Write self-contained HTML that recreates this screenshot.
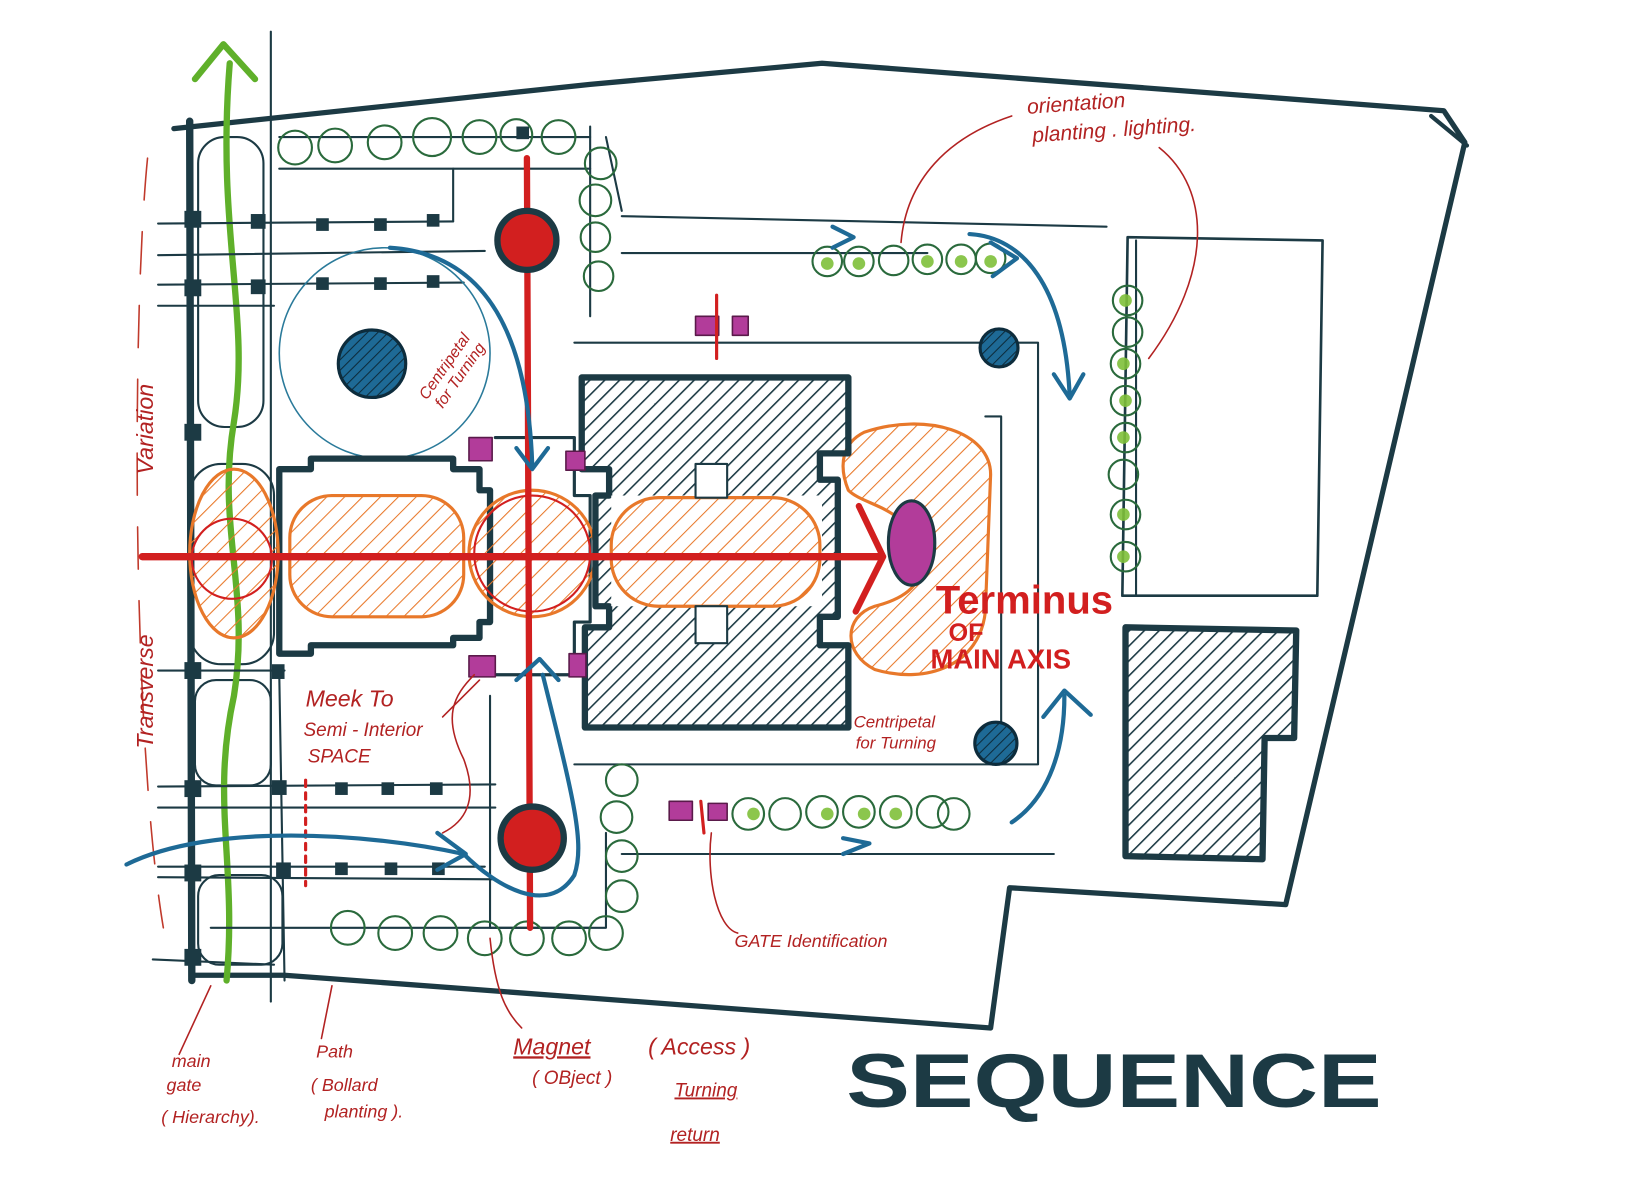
<!DOCTYPE html>
<html><head><meta charset="utf-8"><style>html,body{margin:0;padding:0;background:#fff}svg{display:block}</style></head>
<body>
<svg width="1644" height="1184" viewBox="0 0 1560 1123" preserveAspectRatio="none" xmlns="http://www.w3.org/2000/svg">
<defs>
<pattern id="ho" width="12" height="12" patternUnits="userSpaceOnUse" patternTransform="rotate(45)"><line x1="0" y1="0" x2="0" y2="12" stroke="#e8782a" stroke-width="2"/></pattern>
<pattern id="hk" width="10" height="10" patternUnits="userSpaceOnUse" patternTransform="rotate(45)"><line x1="0" y1="0" x2="0" y2="10" stroke="#1c3a44" stroke-width="3"/></pattern>
<pattern id="hb" width="7" height="7" patternUnits="userSpaceOnUse" patternTransform="rotate(45)"><rect width="7" height="7" fill="#1e6a96"/><line x1="0" y1="0" x2="0" y2="7" stroke="#0d2c3c" stroke-width="2"/></pattern>
</defs>
<rect width="1560" height="1123" fill="#fff"/>
<g fill="none" stroke-linecap="round" stroke-linejoin="round">
<path d="M165 122 L560 80 L780 60 L1370 105 L1390 135 L1220 858 L958 842 L940 975 L270 925 L185 925" stroke="#1c3a44" stroke-width="5"/>
<path d="M1358 110 L1392 138" stroke="#1c3a44" stroke-width="4"/>
<path d="M180 115 L182 930" stroke="#1c3a44" stroke-width="7"/>
<path d="M257 30 L257 950" stroke="#1c3a44" stroke-width="2"/>
<path d="M145 910 L260 915" stroke="#1c3a44" stroke-width="2"/>
<g stroke="#1c3a44" stroke-width="2">
<rect x="188" y="130" width="62" height="275" rx="25"/>
<rect x="180" y="440" width="80" height="190" rx="30"/>
<rect x="185" y="645" width="72" height="100" rx="20"/>
<rect x="188" y="830" width="80" height="85" rx="20"/>
</g>
<path d="M215 930 C225 820 200 760 222 660 C238 560 205 500 222 400 C238 300 205 220 218 60" stroke="#5fb02a" stroke-width="6"/>
<path d="M185 75 L212 42 L242 75" stroke="#5fb02a" stroke-width="6"/>
<g stroke="#1c3a44" stroke-width="2">
<path d="M150 212 L430 210"/><path d="M150 242 L460 238"/><path d="M150 270 L440 268"/><path d="M150 290 L260 290"/>
<path d="M150 636 L270 636"/><path d="M150 746 L470 744"/><path d="M150 766 L470 766"/><path d="M150 822 L460 822"/><path d="M150 832 L470 834"/>
<path d="M265 130 L560 130"/><path d="M265 160 L560 160"/><path d="M265 640 L270 930"/>
<path d="M430 160 L430 210"/><path d="M560 120 L560 300"/><path d="M575 130 L590 200"/>
<path d="M545 325 L985 325 L985 725 L545 725"/><path d="M935 395 L950 395 L950 700"/>
<path d="M590 205 L1050 215"/><path d="M590 240 L880 240"/>
<path d="M575 790 L575 880 L465 880 L465 660"/><path d="M590 810 L1000 810"/>
<path d="M1070 225 L1255 228 L1250 565 L1065 565 Z" stroke-width="2.5"/><path d="M1078 228 L1078 565"/>
<path d="M200 880 L560 880"/>
</g>
<g fill="#1c3a44" stroke="none">
<rect x="175" y="200" width="16" height="16"/><rect x="238" y="203" width="14" height="14"/><rect x="175" y="265" width="16" height="16"/><rect x="238" y="265" width="14" height="14"/>
<rect x="300" y="207" width="12" height="12"/><rect x="355" y="207" width="12" height="12"/><rect x="405" y="203" width="12" height="12"/>
<rect x="300" y="263" width="12" height="12"/><rect x="355" y="263" width="12" height="12"/><rect x="405" y="261" width="12" height="12"/>
<rect x="175" y="402" width="16" height="16"/><rect x="175" y="628" width="16" height="16"/><rect x="258" y="630" width="12" height="14"/>
<rect x="175" y="740" width="16" height="16"/><rect x="258" y="740" width="14" height="14"/>
<rect x="318" y="742" width="12" height="12"/><rect x="362" y="742" width="12" height="12"/><rect x="408" y="742" width="12" height="12"/>
<rect x="175" y="820" width="16" height="16"/><rect x="262" y="818" width="14" height="14"/>
<rect x="318" y="818" width="12" height="12"/><rect x="365" y="818" width="12" height="12"/><rect x="410" y="818" width="12" height="12"/>
<rect x="490" y="120" width="12" height="12"/><rect x="175" y="900" width="16" height="16"/>
</g>
<path d="M140 150 C 125 300 125 700 155 880" stroke="#c0392b" stroke-width="1.5" stroke-dasharray="40 30"/>
<path d="M290 740 L290 840" stroke="#d21f1f" stroke-width="3" stroke-dasharray="6 6"/>
<g stroke="#2a6a3c" stroke-width="2">
<circle cx="280" cy="140" r="16"/><circle cx="318" cy="138" r="16"/><circle cx="365" cy="135" r="16"/><circle cx="410" cy="130" r="18"/><circle cx="455" cy="130" r="16"/><circle cx="490" cy="128" r="15"/><circle cx="530" cy="130" r="16"/>
<circle cx="570" cy="155" r="15"/><circle cx="565" cy="190" r="15"/><circle cx="565" cy="225" r="14"/><circle cx="568" cy="262" r="14"/>
<circle cx="590" cy="740" r="15"/><circle cx="585" cy="775" r="15"/><circle cx="590" cy="812" r="15"/><circle cx="590" cy="850" r="15"/>
<circle cx="330" cy="880" r="16"/><circle cx="375" cy="885" r="16"/><circle cx="418" cy="885" r="16"/><circle cx="460" cy="890" r="16"/><circle cx="500" cy="890" r="16"/><circle cx="540" cy="890" r="16"/><circle cx="575" cy="885" r="16"/>
<circle cx="785" cy="248" r="14"/><circle cx="815" cy="248" r="14"/><circle cx="848" cy="247" r="14"/><circle cx="880" cy="246" r="14"/><circle cx="912" cy="246" r="14"/><circle cx="940" cy="245" r="14"/>
<circle cx="710" cy="772" r="15"/><circle cx="745" cy="772" r="15"/><circle cx="780" cy="770" r="15"/><circle cx="815" cy="770" r="15"/><circle cx="850" cy="770" r="15"/><circle cx="885" cy="770" r="15"/><circle cx="905" cy="772" r="15"/>
<circle cx="1070" cy="285" r="14"/><circle cx="1070" cy="315" r="14"/><circle cx="1068" cy="345" r="14"/><circle cx="1068" cy="380" r="14"/><circle cx="1068" cy="415" r="14"/><circle cx="1066" cy="450" r="14"/><circle cx="1068" cy="488" r="14"/><circle cx="1068" cy="528" r="14"/>
</g>
<g fill="#7fc03a" stroke="none" opacity="0.9">
<circle cx="785" cy="250" r="6"/><circle cx="815" cy="250" r="6"/><circle cx="880" cy="248" r="6"/><circle cx="912" cy="248" r="6"/><circle cx="940" cy="248" r="6"/>
<circle cx="715" cy="772" r="6"/><circle cx="785" cy="772" r="6"/><circle cx="820" cy="772" r="6"/><circle cx="850" cy="772" r="6"/>
<circle cx="1068" cy="285" r="6"/><circle cx="1066" cy="345" r="6"/><circle cx="1068" cy="380" r="6"/><circle cx="1066" cy="415" r="6"/><circle cx="1066" cy="488" r="6"/><circle cx="1066" cy="528" r="6"/>
</g>
<circle cx="365" cy="335" r="100" stroke="#2a7a9a" stroke-width="1.5"/>
<path d="M265 445 L295 445 L295 435 L430 435 L430 445 L455 445 L455 465 L465 465 L465 590 L455 590 L455 605 L430 605 L430 612 L295 612 L295 620 L265 620 Z" stroke="#1c3a44" stroke-width="6"/>
<path d="M470 415 L545 415 L545 470 L560 470 L560 590 L545 590 L545 640 L470 640" stroke="#1c3a44" stroke-width="3"/>
<g stroke="#e8782a" stroke-width="3" fill="url(#ho)">
<ellipse cx="222" cy="525" rx="42" ry="80"/>
<rect x="275" y="470" width="165" height="115" rx="40"/>
<circle cx="505" cy="525" r="60"/>
<path d="M820 410 C880 390 940 410 940 450 L935 580 C930 630 880 650 830 635 C800 620 800 585 830 575 C870 565 880 545 870 520 C860 480 820 480 805 465 C795 440 800 420 820 410 Z"/>
</g>
<circle cx="220" cy="530" r="38" stroke="#d21f1f" stroke-width="2"/>
<circle cx="505" cy="525" r="55" stroke="#d21f1f" stroke-width="2"/>
<path d="M552 358 L805 358 L805 430 L778 430 L778 455 L795 455 L795 585 L778 585 L778 612 L805 612 L805 690 L555 690 L555 595 L578 595 L578 575 L565 575 L565 470 L578 470 L578 445 L552 445 Z" fill="url(#hk)" stroke="#1c3a44" stroke-width="6"/>
<rect x="580" y="470" width="200" height="105" fill="#fff" stroke="none"/>
<rect x="580" y="472" width="198" height="103" rx="45" stroke="#e8782a" stroke-width="3" fill="url(#ho)"/>
<rect x="660" y="440" width="30" height="32" fill="#fff" stroke="#1c3a44" stroke-width="2"/>
<rect x="660" y="575" width="30" height="35" fill="#fff" stroke="#1c3a44" stroke-width="2"/>
<path d="M1068 595 L1230 598 L1228 700 L1200 700 L1198 815 L1068 812 Z" fill="url(#hk)" stroke="#1c3a44" stroke-width="6"/>
<g fill="#b23c9a" stroke="#5a1a4a" stroke-width="1.5">
<rect x="445" y="415" width="22" height="22"/><rect x="537" y="428" width="18" height="18"/>
<rect x="445" y="622" width="25" height="20"/><rect x="540" y="620" width="16" height="22"/>
<rect x="660" y="300" width="22" height="18"/><rect x="695" y="300" width="15" height="18"/>
<rect x="635" y="760" width="22" height="18"/><rect x="672" y="762" width="18" height="16"/>
</g>
<ellipse cx="865" cy="515" rx="22" ry="40" fill="#b23c9a" stroke="#1c3a44" stroke-width="3"/>
<path d="M135 528 L835 528" stroke="#d21f1f" stroke-width="7"/>
<path d="M815 480 L838 528 L812 580" stroke="#d21f1f" stroke-width="6"/>
<path d="M500 150 L503 880" stroke="#d21f1f" stroke-width="6"/>
<path d="M680 280 L680 340 M665 760 L668 790" stroke="#d21f1f" stroke-width="3"/>
<circle cx="500" cy="228" r="28" fill="#d21f1f" stroke="#1c3a44" stroke-width="6"/>
<circle cx="505" cy="795" r="30" fill="#d21f1f" stroke="#1c3a44" stroke-width="6"/>
<circle cx="353" cy="345" r="32" fill="url(#hb)" stroke="#0d2c3c" stroke-width="3"/>
<circle cx="948" cy="330" r="18" fill="url(#hb)" stroke="#0d2c3c" stroke-width="3"/>
<circle cx="945" cy="705" r="20" fill="url(#hb)" stroke="#0d2c3c" stroke-width="3"/>
<g stroke="#1e6a96" stroke-width="4">
<path d="M370 235 C450 240 500 300 505 440"/><path d="M490 425 L505 445 L520 425"/>
<path d="M120 820 C200 780 350 790 440 810"/><path d="M415 790 L442 810 L415 825"/>
<path d="M440 810 C470 840 520 870 545 830 C555 800 545 760 515 640"/><path d="M490 645 L512 625 L530 645"/>
<path d="M920 222 C970 225 1010 270 1015 375"/><path d="M1000 355 L1015 378 L1028 355"/>
<path d="M1010 660 C1010 720 990 760 960 780"/><path d="M990 680 L1010 655 L1035 678"/>
<path d="M800 795 L825 800 L800 810"/><path d="M790 215 L810 225 L790 235"/>
<path d="M940 230 L965 245 L942 262"/>
</g>
<g stroke="#b22222" stroke-width="1.5">
<path d="M960 110 C900 130 860 170 855 230"/><path d="M1100 140 C1150 180 1150 260 1090 340"/>
<path d="M450 640 C430 660 420 680 440 720 C455 760 440 780 420 790"/>
<path d="M200 935 L170 1000"/><path d="M315 935 L305 985"/><path d="M465 890 C470 940 480 960 495 975"/>
<path d="M675 790 C670 830 680 880 700 885"/><path d="M420 680 L455 645"/>
</g>
</g>
<g font-family="Liberation Sans, sans-serif" fill="#b22222" font-style="italic">
<text x="975" y="108" font-size="20" transform="rotate(-4 975 108)">orientation</text>
<text x="980" y="135" font-size="20" transform="rotate(-4 980 135)">planting . lighting.</text>
<text x="405" y="380" font-size="15" transform="rotate(-55 405 380)">Centripetal</text>
<text x="420" y="388" font-size="15" transform="rotate(-55 420 388)">for Turning</text>
<text x="145" y="710" font-size="22" transform="rotate(-90 145 710)">Transverse</text>
<text x="145" y="450" font-size="22" transform="rotate(-90 145 450)">Variation</text>
<text x="290" y="670" font-size="22">Meek To</text>
<text x="288" y="698" font-size="18">Semi - Interior</text>
<text x="292" y="723" font-size="18">SPACE</text>
<text x="810" y="690" font-size="16">Centripetal</text>
<text x="812" y="710" font-size="16">for Turning</text>
<text x="888" y="582" font-size="38" font-style="normal" font-weight="bold" fill="#d21f1f">Terminus</text>
<text x="900" y="608" font-size="24" font-style="normal" font-weight="bold" fill="#d21f1f">OF</text>
<text x="883" y="634" font-size="26" font-style="normal" font-weight="bold" fill="#d21f1f">MAIN AXIS</text>
<text x="697" y="898" font-size="17">GATE   Identification</text>
<text x="163" y="1012" font-size="17">main</text>
<text x="158" y="1035" font-size="17">gate</text>
<text x="153" y="1065" font-size="17">( Hierarchy).</text>
<text x="300" y="1003" font-size="17">Path</text>
<text x="295" y="1035" font-size="17">( Bollard</text>
<text x="308" y="1060" font-size="17">planting ).</text>
<text x="487" y="1000" font-size="22" text-decoration="underline">Magnet</text>
<text x="615" y="1000" font-size="22">( Access )</text>
<text x="505" y="1028" font-size="18">( OBject )</text>
<text x="640" y="1040" font-size="18" text-decoration="underline">Turning</text>
<text x="636" y="1082" font-size="18" text-decoration="underline">return</text>
</g>
<text x="803" y="1050" font-family="Liberation Sans, sans-serif" font-weight="bold" font-size="72" fill="#1c3a44" textLength="508" lengthAdjust="spacingAndGlyphs">SEQUENCE</text>
</svg>
</body></html>
